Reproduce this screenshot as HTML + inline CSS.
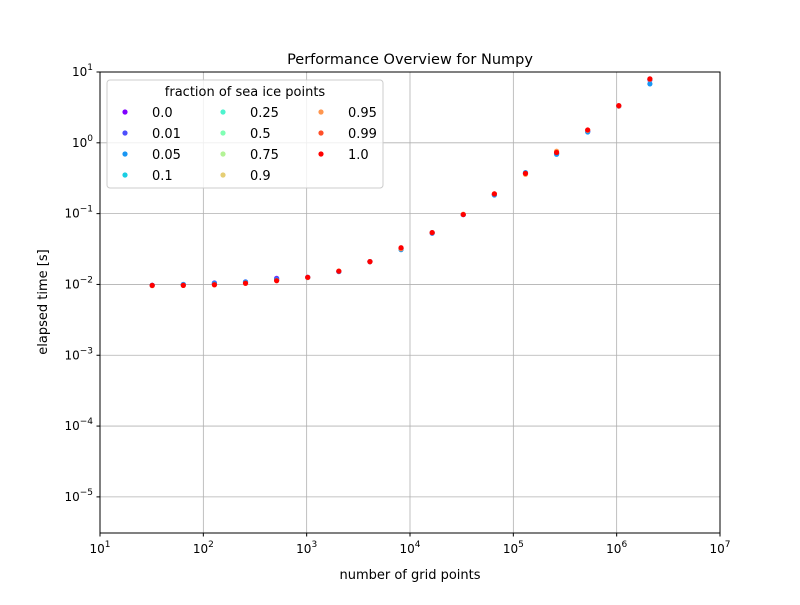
<!DOCTYPE html>
<html><head><meta charset="utf-8"><style>
body{margin:0;background:#fff}
svg text{font-family:"DejaVu Sans","Liberation Sans",sans-serif;fill:#000}
</style></head><body>
<svg id="c" width="800" height="600" xmlns="http://www.w3.org/2000/svg">
<rect width="800" height="600" fill="#fff"/>
<g id="grid"></g>
<g id="pts"></g>
<rect x="100" y="72" width="620" height="461" fill="none" stroke="#000" stroke-width="1"/>
<g id="ticks"></g>
<text x="410" y="64" font-size="14.5" text-anchor="middle">Performance Overview for Numpy</text>
<text x="410" y="579" font-size="13" text-anchor="middle">number of grid points</text>
<text transform="translate(47,302) rotate(-90)" font-size="13" text-anchor="middle">elapsed time [s]</text>
<g id="legend">
<rect x="107" y="80" width="276" height="108" rx="3" fill="#fff" fill-opacity="0.8" stroke="#ccc"/>
<text x="245" y="96" font-size="13" text-anchor="middle">fraction of sea ice points</text>
</g>
</svg>
<script>
const xValues=[32,64,128,256,512,1024,2048,4096,8192,16384,32768,65536,131072,262144,524288,1048576,2097152];
const fractions=["0.0","0.01","0.05","0.1","0.25","0.5","0.75","0.9","0.95","0.99","1.0"];
const seriesP00=[0.0097,0.0099,0.0105,0.0108,0.0122,0.0126,0.0152,0.021,0.032,0.053,0.097,0.186,0.37,0.71,1.45,3.3,7.8];
const seriesP01=[0.0097,0.0100,0.0104,0.0109,0.0120,0.0126,0.0153,0.021,0.032,0.054,0.097,0.185,0.37,0.70,1.45,3.3,7.7];
const seriesP05=[0.0097,0.0100,0.0103,0.0108,0.0116,0.0125,0.0152,0.021,0.031,0.053,0.097,0.183,0.38,0.69,1.42,3.3,6.8];
const seriesP95=[0.0096,0.0097,0.0099,0.0104,0.0113,0.0125,0.0155,0.021,0.032,0.054,0.098,0.19,0.36,0.76,1.5,3.3,7.9];
const seriesP10=[0.0097,0.0097,0.0099,0.0104,0.0113,0.0126,0.0154,0.021,0.033,0.054,0.097,0.19,0.37,0.73,1.52,3.35,8.0];
const xTicks=[1,2,3,4,5,6,7];
const yTicks=[-5,-4,-3,-2,-1,0,1];
const NS="http://www.w3.org/2000/svg";
const X0=100,X1=720,Y0=72,Y1=533,LX0=1,LX1=7,LYT=1,LYB=-5.51;
const sx=v=>X0+(Math.log10(v)-LX0)/(LX1-LX0)*(X1-X0);
const sy=v=>Y0+(LYT-Math.log10(v))/(LYT-LYB)*(Y1-Y0);
function col(t){const r=Math.min(1,Math.abs(2*t-0.5)),g=Math.sin(Math.PI*t),b=Math.cos(Math.PI/2*t);const h=v=>Math.round(Math.max(0,v)*255).toString(16).padStart(2,'0');return '#'+h(r)+h(g)+h(b);}
function mk(tag,a,p){const e=document.createElementNS(NS,tag);for(const k in a)e.setAttribute(k,a[k]);p.appendChild(e);return e;}
const grid=document.getElementById('grid'),ticks=document.getElementById('ticks'),pts=document.getElementById('pts');
xTicks.forEach(p=>{const x=sx(Math.pow(10,p));
 const l=mk('line',{x1:x,x2:x,y1:Y0,y2:Y1,stroke:'#b0b0b0','stroke-width':0.8},grid);
 
 mk('line',{x1:x,x2:x,y1:Y1,y2:Y1+3.5,stroke:'#000'},ticks);
 const t=mk('text',{x:x,y:Y1+20,'font-size':12,'text-anchor':'middle'},ticks);
 
 t.innerHTML='10<tspan dy="-6" font-size="9">'+p+'</tspan>';});
yTicks.forEach(p=>{const y=sy(Math.pow(10,p));
 const l=mk('line',{x1:X0,x2:X1,y1:y,y2:y,stroke:'#b0b0b0','stroke-width':0.8},grid);
 
 mk('line',{x1:X0-3.5,x2:X0,y1:y,y2:y,stroke:'#000'},ticks);
 const t=mk('text',{x:X0-7,y:y+4,'font-size':12,'text-anchor':'end'},ticks);
 
 t.innerHTML='10<tspan dy="-6" font-size="9">'+(p<0?'\u2212'+(-p):p)+'</tspan>';});
const drawn=[[0,seriesP00],[1,seriesP01],[2,seriesP05],[8,seriesP95],[10,seriesP10]];
drawn.forEach(([i,s])=>{const c=col(i/10);s.forEach((v,j)=>{
 const e=mk('circle',{cx:sx(xValues[j]),cy:sy(v),r:2.6,fill:c},pts);
 });});
const lg=document.getElementById('legend');
fractions.forEach((f,i)=>{const cI=Math.floor(i/4),rI=i%4;const x=125+cI*98,y=112+rI*21;
 const e=mk('circle',{cx:x,cy:y,r:2.6,fill:col(i/10)},lg);
 
 const t=mk('text',{x:x+27,y:y+5,'font-size':13},lg);t.textContent=f;
 });
</script>
</body></html>
